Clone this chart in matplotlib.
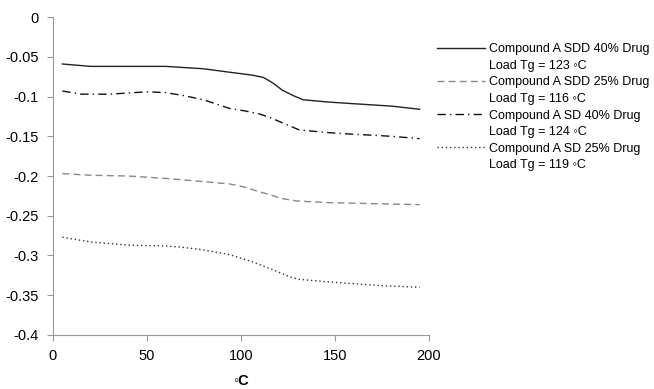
import matplotlib
matplotlib.use("Agg")
from matplotlib import pyplot as plt
from matplotlib.lines import Line2D

plt.rcParams['font.family'] = ['Liberation Sans', 'DejaVu Sans']

# temperature (deg C) and signal for each sample
x_sdd40 = [5, 20, 40, 60, 80, 96, 106, 112, 117, 122, 128, 133, 147, 160, 180, 195]
y_sdd40 = [-0.059, -0.062, -0.062, -0.062, -0.065, -0.070, -0.073, -0.076,
           -0.083, -0.092, -0.099, -0.104, -0.107, -0.109, -0.112, -0.116]

x_sdd25 = [5, 20, 40, 60, 80, 94, 102, 110, 116, 121, 126, 130, 147, 157, 175, 195]
y_sdd25 = [-0.197, -0.199, -0.200, -0.203, -0.207, -0.210, -0.214, -0.220,
           -0.224, -0.228, -0.230, -0.2315, -0.2335, -0.234, -0.235, -0.236]

x_sd40 = [5, 15, 30, 50, 60, 70, 80, 94, 102, 110, 116, 121, 126, 131, 147, 157, 180, 195]
y_sd40 = [-0.093, -0.097, -0.097, -0.094, -0.095, -0.099, -0.104, -0.115,
          -0.118, -0.122, -0.127, -0.132, -0.137, -0.142, -0.1455, -0.147, -0.150, -0.153]

x_sd25 = [5, 20, 40, 60, 70, 80, 94, 106, 117, 122, 126, 131, 145, 157, 175, 195]
y_sd25 = [-0.277, -0.283, -0.287, -0.288, -0.290, -0.293, -0.299, -0.308,
          -0.318, -0.323, -0.327, -0.330, -0.333, -0.335, -0.338, -0.340]

names = ["Compound A SDD 40% Drug", "Compound A SDD 25% Drug",
         "Compound A SD 40% Drug", "Compound A SD 25% Drug"]
tgs = ["Load Tg = 123 \u25e6C", "Load Tg = 116 \u25e6C",
       "Load Tg = 124 \u25e6C", "Load Tg = 119 \u25e6C"]

fig = plt.figure(figsize=(6.54, 3.89), dpi=100)
ax = fig.add_axes([0.081, 0.139, 0.575, 0.817])

styles = [('-', '#222222'), ((0, (5, 3)), '#888888'), ((0, (6, 3, 1, 3)), '#111111'),
          ((0, (1, 2)), '#333333')]
series = [(x_sdd40, y_sdd40), (x_sdd25, y_sdd25), (x_sd40, y_sd40), (x_sd25, y_sd25)]

handles = []
labels = []
for (xs, ys), (ls, c), n, t in zip(series, styles, names, tgs):
    ax.plot(xs, ys, linestyle=ls, color=c, linewidth=1)
    handles.append(Line2D([], [], linestyle=ls, color=c, linewidth=1))
    labels.append(n)
    handles.append(Line2D([], [], color='none'))
    labels.append(t)

ax.set_xlim(0, 200)
ax.set_ylim(-0.4, 0)
ax.set_xticks([0, 50, 100, 150, 200])
ax.set_yticks([0, -0.05, -0.1, -0.15, -0.2, -0.25, -0.3, -0.35, -0.4])
ax.set_yticklabels(["0", "-0.05", "-0.1", "-0.15", "-0.2", "-0.25", "-0.3", "-0.35", "-0.4"])
for side in ['top', 'right']:
    ax.spines[side].set_visible(False)
for side in ['left', 'bottom']:
    ax.spines[side].set_color('#999999')
ax.tick_params(colors='#999999', labelcolor='black', labelsize=10.5, length=4, pad=6)

ax.set_xlabel("\u25e6C", fontsize=10.5, fontweight='bold', labelpad=8)

fig.legend(handles, labels, loc='upper left', bbox_to_anchor=(0.66, 0.902),
           frameon=False, fontsize=9, handlelength=3.9, handletextpad=0.25,
           labelspacing=0.37, borderaxespad=0)

plt.savefig("out.png", dpi=100)
plt.close()
